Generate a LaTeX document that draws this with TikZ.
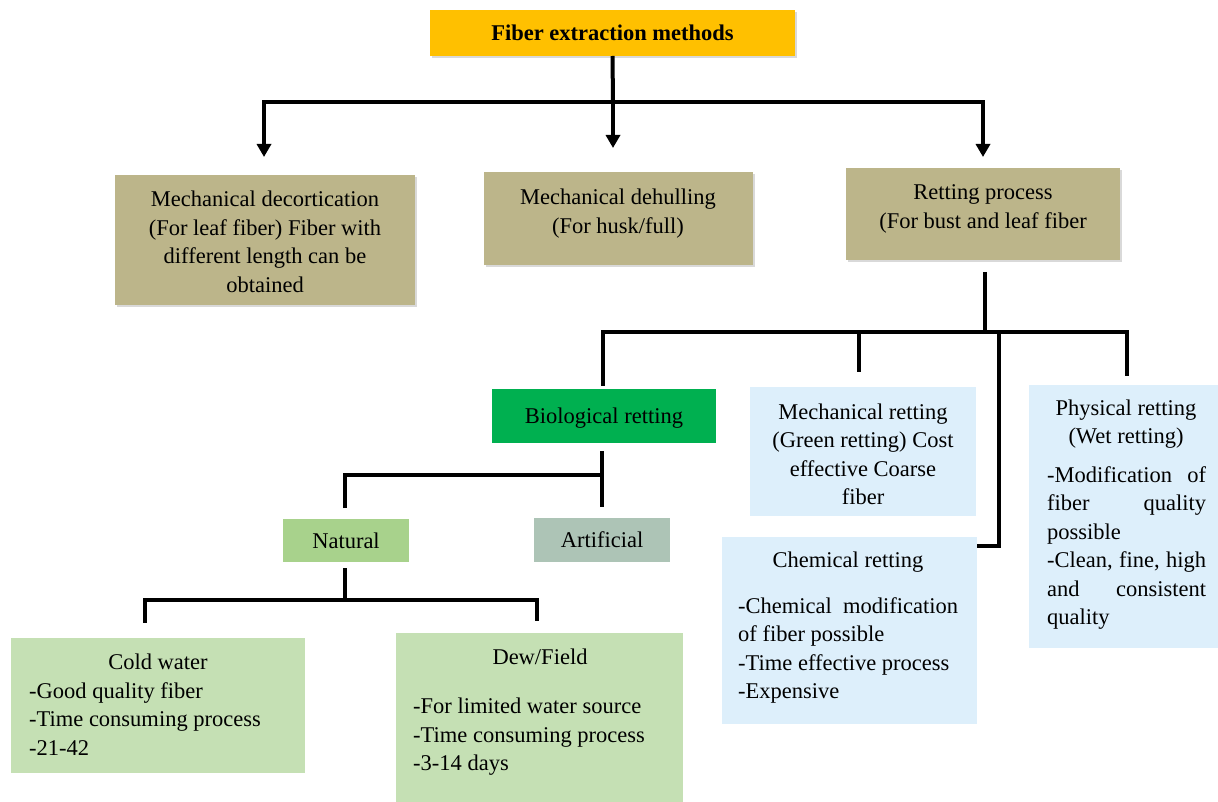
\documentclass[tikz,border=0pt]{standalone}
\usepackage{fontspec}
\setmainfont{LiberationSerif}[Extension=.ttf, UprightFont=*-Regular, BoldFont=*-Bold, ItalicFont=*-Italic, BoldItalicFont=*-BoldItalic]
\usetikzlibrary{arrows.meta,shadows}
\definecolor{titlecol}{HTML}{FFC000}
\definecolor{tancol}{RGB}{188,181,138}
\definecolor{biocol}{HTML}{00B050}
\definecolor{natcol}{RGB}{168,210,140}
\definecolor{artcol}{RGB}{173,196,182}
\definecolor{lgreen}{RGB}{197,224,180}
\definecolor{lblue}{RGB}{221,239,251}
\setlength{\parindent}{0pt}
\begin{document}
\begin{tikzpicture}[x=1pt,y=-1pt,
  bx/.style={inner sep=0pt, outer sep=0pt, anchor=north west, draw=none},
  shd/.style={drop shadow={shadow xshift=1.5pt, shadow yshift=-2.5pt, opacity=0.3}},
  tanbox/.style={bx, fill=tancol, shd},
  txt/.style={inner sep=0pt, font=\fontsize{22.5}{28.5}\selectfont, align=center},
  lst/.style={inner sep=0pt, font=\fontsize{22.5}{28.5}\selectfont, align=left},
  jst/.style={inner sep=0pt, font=\fontsize{22.5}{28.5}\selectfont, align=justify, text width=#1},
  wire/.style={line width=4pt, line join=miter, draw=black},
  arr/.style={wire, -{Triangle[width=14pt,length=13pt]}}
]
\useasboundingbox (0,0) rectangle (1218,802);

% ---------- boxes ----------
\node[bx, fill=titlecol, shd, minimum width=365pt, minimum height=46pt] (title) at (430,10) {};
\node[txt, font=\fontsize{22.5}{28.5}\selectfont\bfseries] (title-t) at (title.center) {Fiber extraction methods};

\node[tanbox, minimum width=300pt, minimum height=130pt] (mdec) at (115,175) {};
\node[txt, anchor=north] (mdec-t) at (265,191) {Mechanical decortication\\(For leaf fiber) Fiber with\\different length can be\\obtained};

\node[tanbox, minimum width=269pt, minimum height=93pt] (mdeh) at (484,172) {};
\node[txt, anchor=north] (mdeh-t) at (618,189) {Mechanical dehulling\\(For husk/full)};

\node[tanbox, minimum width=274pt, minimum height=92pt] (ret) at (846,168) {};
\node[txt, anchor=north] (ret-t) at (983,184.5) {Retting process\\(For bust and leaf fiber};

\node[bx, fill=biocol, minimum width=224pt, minimum height=54pt] (bio) at (492,389) {};
\node[txt] (bio-t) at ([yshift=-2pt]bio.center) {Biological retting};

\node[bx, fill=lblue, minimum width=226pt, minimum height=129pt] (mret) at (750,387) {};
\node[txt, anchor=north] (mret-t) at (863,403.5) {Mechanical retting\\(Green retting) Cost\\effective Coarse\\fiber};

\node[bx, fill=lblue, minimum width=189pt, minimum height=263pt] (pret) at (1029,385) {};
\node[txt, anchor=north] (pret-t) at (1126,399.5) {Physical retting\\(Wet retting)};
\node[jst=159pt, anchor=north west] (pret-l) at (1047,466) {-Modification of\linebreak fiber quality\linebreak possible\par -Clean, fine, high\linebreak and consistent\linebreak quality};

\node[bx, fill=lblue, minimum width=255pt, minimum height=187pt] (cret) at (722,537) {};
\node[txt, anchor=north] (cret-t) at (848,551.5) {Chemical retting};
\node[jst=220pt, anchor=north west] (cret-l) at (738,597) {-Chemical modification\linebreak of fiber possible\par -Time effective process\par -Expensive};

\node[bx, fill=natcol, minimum width=126pt, minimum height=43pt] (nat) at (283,519) {};
\node[txt] (nat-t) at (nat.center) {Natural};

\node[bx, fill=artcol, minimum width=136pt, minimum height=44pt] (art) at (534,518) {};
\node[txt] (art-t) at (art.center) {Artificial};

\node[bx, fill=lgreen, minimum width=294pt, minimum height=135pt] (cold) at (11,638) {};
\node[txt, anchor=north] (cold-t) at (158,653.5) {Cold water};
\node[lst, anchor=north west] (cold-l) at (29,682) {-Good quality fiber\\-Time consuming process\\-21-42};

\node[bx, fill=lgreen, minimum width=287pt, minimum height=169pt] (dew) at (396,633) {};
\node[txt, anchor=north] (dew-t) at (540,648.5) {Dew/Field};
\node[lst, anchor=north west] (dew-l) at (413,698) {-For limited water source\\-Time consuming process\\-3-14 days};

% ---------- connectors ----------
\coordinate (j1) at (613,102);
\coordinate (a1) at (264,157);
\coordinate (a2) at (613,148);
\coordinate (a3) at (983,157);
\draw[wire] (title.south) -- (j1);
\draw[arr] (j1) -| (a1);
\draw[arr] (j1) -- (a2);
\draw[arr] (j1) -| (a3);

\coordinate (r0) at (985,272);
\coordinate (j2) at (985,332);
\coordinate (b1) at (603,386);
\coordinate (b2) at (859,372);
\coordinate (b3) at (1127,376);
\coordinate (b4) at (999,546);
\draw[wire] (r0) -- (j2);
\draw[wire] (j2) -| (b1);
\draw[wire] (j2) -| (b3);
\draw[wire] (b2 |- j2) -- (b2);
\draw[wire] (b4 |- j2) -- (b4) -- (cret.east |- b4);

\coordinate (c0) at (602,451);
\coordinate (c1) at (602,507);
\coordinate (c2) at (345,508);
\draw[wire] (c0) -- (c1);
\draw[wire] (c2) |- (602,475);

\coordinate (n0) at (345,568);
\coordinate (n1) at (345,600);
\coordinate (d1) at (145,623);
\coordinate (d2) at (537,621);
\draw[wire] (n0) -- (n1);
\draw[wire] (n1) -| (d1);
\draw[wire] (n1) -| (d2);
\end{tikzpicture}
\end{document}
